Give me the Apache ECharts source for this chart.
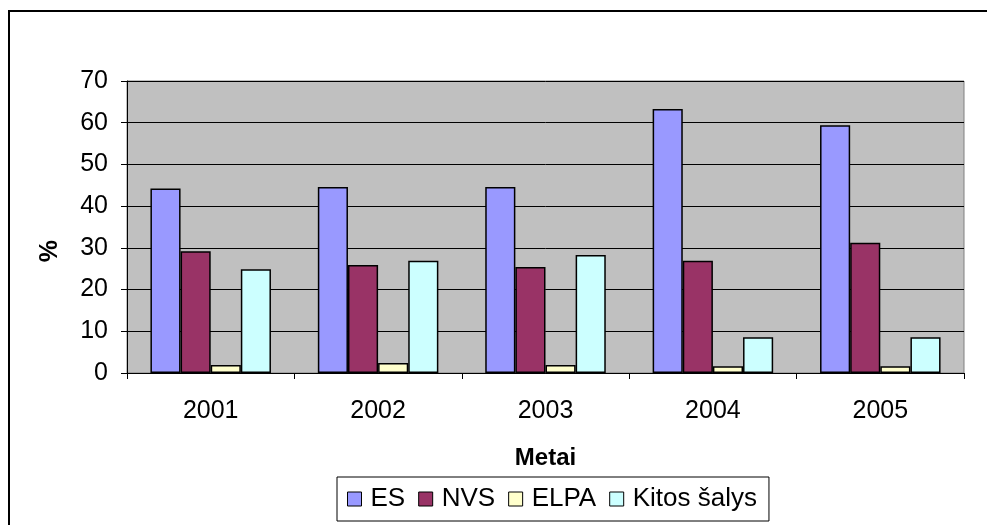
<!DOCTYPE html>
<html>
<head>
<meta charset="utf-8">
<script src="https://cdn.jsdelivr.net/npm/echarts@6/dist/echarts.min.js"></script>
<style>
  html, body { margin: 0; padding: 0; background: #fff; }
  #chart { width: 987px; height: 525px; }
</style>
</head>
<body>
<div id="chart"></div>
<script>
// metai ir duomenys (%)
var years = ['2001', '2002', '2003', '2004', '2005'];
var es = [44.2, 44.6, 44.6, 63.3, 59.4];
var nvs = [29.2, 25.9, 25.4, 26.9, 31.2];
var elpa = [1.9, 2.4, 1.9, 1.6, 1.6];
var kitos = [24.9, 26.9, 28.3, 8.6, 8.6];
var yTicks = [0, 10, 20, 30, 40, 50, 60, 70];

var font = '"Liberation Sans", Arial, sans-serif';

function bar(name, data, color) {
    return {
        name: name,
        type: 'bar',
        data: data,
        barGap: '0%',
        barCategoryGap: '28%',
        itemStyle: { color: color, borderColor: '#000', borderWidth: 1.5 }
    };
}

var chart = echarts.init(document.getElementById('chart'));
chart.setOption({
    animation: false,
    backgroundColor: '#fff',
    textStyle: { fontFamily: font },
    graphic: [
        {
            type: 'rect',
            shape: { x: 9, y: 11, width: 1000, height: 600 },
            style: { fill: 'none', stroke: '#000', lineWidth: 2 }
        },
        {
            type: 'text',
            left: 38, top: 240,
            rotation: Math.PI / 2,
            style: { text: '%', font: 'bold 25px ' + font, fill: '#000' }
        }
    ],
    grid: {
        left: 127, top: 81, right: 23, bottom: 152,
        show: true,
        backgroundColor: '#c0c0c0',
        borderColor: '#808080',
        borderWidth: 1
    },
    legend: {
        left: 337, top: 477,
        padding: [9, 12, 9, 10],
        borderColor: '#000',
        borderWidth: 1,
        itemWidth: 14, itemHeight: 14, itemGap: 13,
        icon: 'rect',
        itemStyle: { borderColor: '#000', borderWidth: 1 },
        textStyle: { fontSize: 26, color: '#000', fontFamily: font, padding: [0, 0, 0, 4] },
        data: ['ES', 'NVS', 'ELPA', 'Kitos šalys']
    },
    xAxis: {
        type: 'category',
        data: years,
        name: 'Metai',
        nameLocation: 'middle',
        nameGap: 73,
        nameTextStyle: { fontSize: 24, fontWeight: 'bold', color: '#000', fontFamily: font },
        axisLine: { lineStyle: { color: '#000', width: 1 } },
        axisTick: { show: true, length: 6, lineStyle: { color: '#000' } },
        axisLabel: { fontSize: 25, color: '#000', margin: 26, fontFamily: font }
    },
    yAxis: {
        type: 'value',
        min: yTicks[0],
        max: yTicks[yTicks.length - 1],
        interval: 10,
        axisLine: { show: true, lineStyle: { color: '#000', width: 1 } },
        axisTick: { show: true, length: 6, lineStyle: { color: '#000' } },
        axisLabel: { fontSize: 25, color: '#000', margin: 19, fontFamily: font },
        splitLine: { lineStyle: { color: '#000', width: 1 } }
    },
    series: [
        bar('ES', es, '#9999ff'),
        bar('NVS', nvs, '#993366'),
        bar('ELPA', elpa, '#ffffcc'),
        bar('Kitos šalys', kitos, '#ccffff')
    ]
});
</script>
</body>
</html>
